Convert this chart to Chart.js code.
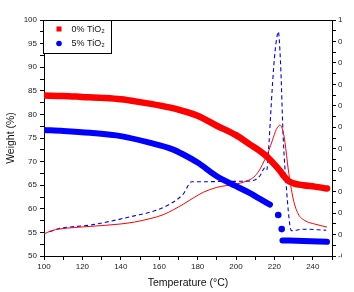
<!DOCTYPE html>
<html>
<head>
<meta charset="utf-8">
<script src="https://cdn.jsdelivr.net/npm/chart.js@4.4.1/dist/chart.umd.min.js"></script>
<style>
  html, body { margin: 0; padding: 0; background: #fff; }
  #wrap { width: 342px; height: 292px; overflow: hidden; }
</style>
</head>
<body>
<div id="wrap"><canvas id="chart" width="380" height="292"></canvas></div>
<script>
// DATA

// weight loss, 0% TiO2 (left axis)
const redT = [100, 110, 120, 130, 140, 150, 160, 170, 180, 190, 200, 207, 212, 216, 220, 223, 225, 227, 230, 235, 241, 247.4];
const redW = [84.0, 83.9, 83.7, 83.5, 83.2, 82.6, 81.9, 81.0, 79.7, 77.6, 75.6, 73.7, 72.4, 71.1, 69.4, 68.0, 66.9, 66.0, 65.4, 65.0, 64.7, 64.3];

// weight loss, 5% TiO2 (left axis), null = gap in the trace
const blueT = [100, 110, 124, 140, 155, 167, 172.6, 180, 190, 200, 207.3, 212, 217.7, 220, 222, 223, 223.8, 223.9, 224.2, 235, 247.4];
const blueW = [76.7, 76.5, 76.1, 75.4, 74.0, 72.6, 71.5, 69.8, 66.9, 64.8, 63.3, 62.2, 60.9, null, 58.7, null, 55.7, null, 53.3, 53.2, 53.0];

// heat flow, 0% TiO2 (right axis)
const redHT = [100, 104, 108.3, 116, 124, 132, 139.6, 147, 155.2, 162, 167.3, 172.6, 178, 183, 190, 200.4, 207.3, 210, 212.5, 215, 217, 219, 221, 223, 224.5, 225.5, 227.2, 229.8, 232.4, 235.9, 241, 247.4];
const redH = [0.003, 0.018, 0.026, 0.033, 0.038, 0.043, 0.049, 0.058, 0.074, 0.092, 0.115, 0.142, 0.172, 0.197, 0.220, 0.236, 0.256, 0.274, 0.305, 0.350, 0.390, 0.440, 0.490, 0.510, 0.480, 0.430, 0.305, 0.166, 0.096, 0.065, 0.049, 0.035];

// heat flow, 5% TiO2 (right axis)
const blueHT = [103, 108.3, 116, 124, 132, 139.6, 147, 155.2, 165.6, 172.6, 176.9, 180, 190, 200, 208.9, 212.5, 215, 216, 217, 218, 219, 220.3, 221.5, 222, 223.2, 224.6, 226.4, 228.1, 229, 235, 247];
const blueH = [0.013, 0.029, 0.037, 0.044, 0.057, 0.072, 0.087, 0.104, 0.142, 0.190, 0.246, 0.246, 0.247, 0.248, 0.252, 0.274, 0.310, 0.300, 0.400, 0.550, 0.700, 0.850, 0.930, 0.946, 0.800, 0.450, 0.200, 0.041, 0.018, 0.025, 0.020];

const legendLabels = ['0% TiO\u2082', '5% TiO\u2082'];

function pts(xs, ys) { return xs.map((x, i) => ({x: x, y: ys[i]})); }

// show a dot only where a value stands alone between gaps
function lonePoint(c) {
  const d = c.dataset.data, i = c.dataIndex;
  if (d[i] == null || d[i].y == null) return 0;
  const prev = i > 0 ? d[i - 1].y : null;
  const next = i < d.length - 1 ? d[i + 1].y : null;
  return (prev == null && next == null) ? 3.3 : 0;
}

const FONT = 'Liberation Sans, Arial, sans-serif';

// frame on top + legend box inside plot
const framePlugin = {
  id: 'frame',
  afterDraw(chart) {
    const c = chart.ctx, a = chart.chartArea;
    c.save();
    c.strokeStyle = '#000';
    c.lineWidth = 1;
    c.beginPath();
    c.moveTo(a.left, a.top + 0.5);
    c.lineTo(a.right, a.top + 0.5);
    c.stroke();

    // legend
    const lx = a.left - 0.5, ly = a.top + 0.5;
    c.fillStyle = '#fff';
    c.fillRect(lx, ly, 68, 33);
    c.strokeRect(lx, ly, 68, 33);
    c.fillStyle = '#f00';
    c.fillRect(lx + 13, ly + 6, 5, 5);
    c.fillStyle = '#00f';
    c.beginPath();
    c.arc(lx + 15.5, ly + 23, 2.8, 0, Math.PI * 2);
    c.fill();
    c.fillStyle = '#111';
    c.font = '9px ' + FONT;
    c.textBaseline = 'middle';
    c.fillText(legendLabels[0], lx + 28, ly + 9);
    c.fillText(legendLabels[1], lx + 28, ly + 23.5);
    c.restore();
  }
};

const ctx = document.getElementById('chart');

const myChart = new Chart(ctx, {
  type: 'line',
  data: {
    datasets: [
      {
        label: legendLabels[0],
        data: pts(redT, redW),
        yAxisID: 'y',
        borderColor: '#ff0000',
        borderWidth: 6.5,
        borderCapStyle: 'round',
        pointRadius: 0,
        cubicInterpolationMode: 'monotone',
        order: 2
      },
      {
        label: legendLabels[1],
        data: pts(blueT, blueW),
        yAxisID: 'y',
        borderColor: '#0000ff',
        backgroundColor: '#0000ff',
        borderWidth: 6,
        borderCapStyle: 'round',
        pointRadius: lonePoint,
        pointBorderWidth: 0,
        cubicInterpolationMode: 'monotone',
        spanGaps: false,
        order: 1
      },
      {
        label: 'DSC 0%',
        data: pts(redHT, redH),
        yAxisID: 'y2',
        borderColor: '#ff0000',
        borderWidth: 1,
        pointRadius: 0,
        cubicInterpolationMode: 'monotone',
        order: 3
      },
      {
        label: 'DSC 5%',
        data: pts(blueHT, blueH),
        yAxisID: 'y2',
        borderColor: '#0000ff',
        borderWidth: 1.1,
        borderDash: [4, 3],
        pointRadius: 0,
        cubicInterpolationMode: 'monotone',
        order: 4
      }
    ]
  },
  options: {
    responsive: false,
    animation: false,
    layout: { padding: { top: 20, left: 0, right: 0, bottom: 0 } },
    plugins: {
      legend: { display: false },
      tooltip: { enabled: false }
    },
    scales: {
      x: {
        type: 'linear',
        min: 100,
        max: 250,
        afterFit: s => { s.height = 36; },
        border: { color: '#000', width: 1 },
        grid: { drawOnChartArea: false, tickLength: 4, color: '#000' },
        ticks: {
          stepSize: 10,
          autoSkip: false,
          maxRotation: 0,
          padding: 2,
          color: '#222',
          font: { family: FONT, size: 8 },
          callback: v => (v % 20 === 0 && v < 250) ? v : ''
        },
        title: {
          display: true,
          text: 'Temperature (\u00B0C)',
          color: '#111',
          font: { family: FONT, size: 10.5 },
          padding: { top: 0, bottom: 3 }
        }
      },
      y: {
        position: 'left',
        min: 50,
        max: 100,
        afterFit: s => { s.width = 44; },
        border: { color: '#000', width: 1 },
        grid: { drawOnChartArea: false, tickLength: 4, color: '#000' },
        ticks: {
          stepSize: 2.5,
          autoSkip: false,
          padding: 3,
          color: '#222',
          font: { family: FONT, size: 8 },
          callback: v => (v % 5 === 0) ? v : ''
        },
        title: {
          display: true,
          text: 'Weight (%)',
          color: '#111',
          font: { family: FONT, size: 10.5 },
          padding: { top: 5, bottom: 0 }
        }
      },
      y2: {
        position: 'right',
        min: -0.1,
        max: 1.0,
        afterFit: s => { s.width = 48; },
        border: { color: '#000', width: 1 },
        grid: { drawOnChartArea: false, tickLength: 4, color: '#000' },
        ticks: {
          stepSize: 0.05,
          autoSkip: false,
          padding: 2,
          color: '#222',
          font: { family: FONT, size: 8 },
          callback: (v, i) => (i % 2 === 0) ? v.toFixed(1) : ''
        }
      }
    }
  },
  plugins: [framePlugin]
});
</script>
</body>
</html>
